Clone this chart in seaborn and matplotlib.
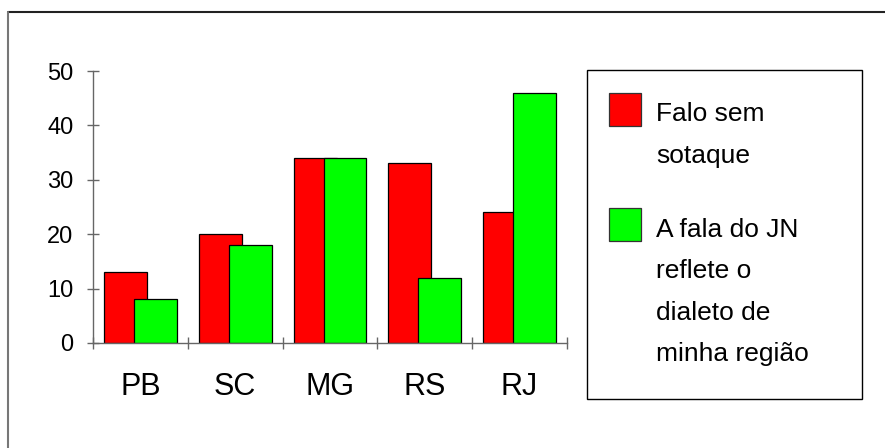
import matplotlib
matplotlib.use("Agg")
import matplotlib.pyplot as plt
from matplotlib.patches import Rectangle
from matplotlib.lines import Line2D
import seaborn as sns
import pandas as pd

# chart data
regions = ["PB", "SC", "MG", "RS", "RJ"]
falo_sem_sotaque = [13, 20, 34, 33, 24]
fala_jn_dialeto = [8, 18, 34, 12, 46]
series_labels = ["Falo sem\nsotaque", "A fala do JN\nreflete o\ndialeto de\nminha região"]
series_colors = ["#ff0000", "#00ff00"]
y_ticks = [0, 10, 20, 30, 40, 50]

df = pd.DataFrame({"regiao": regions, series_labels[0]: falo_sem_sotaque,
                   series_labels[1]: fala_jn_dialeto})
long_df = df.melt(id_vars="regiao", var_name="serie", value_name="valor")

sns.set_style("white")
plt.rcParams["font.family"] = ["Liberation Sans", "DejaVu Sans"]
plt.rcParams["text.color"] = "black"
plt.rcParams["xtick.labelcolor"] = "black"
plt.rcParams["ytick.labelcolor"] = "black"

fig = plt.figure(figsize=(8.85, 4.48), dpi=100)
ax = fig.add_axes([0.1051, 0.2344, 0.5356, 0.6071])

sns.barplot(data=long_df, x="regiao", y="valor", hue="serie", order=regions,
            hue_order=series_labels, palette=series_colors, saturation=1,
            width=0.632, edgecolor="black", linewidth=0.9, legend=False, ax=ax)

# overlapping bars: widen each bar around its own center
bar_w = 0.453
for p in ax.patches:
    c = p.get_x() + p.get_width() / 2
    p.set_width(bar_w)
    p.set_x(c - bar_w / 2)

ax.set_xlim(-0.5, 4.5)
ax.set_ylim(0, 50)
ax.set_yticks(y_ticks)
ax.set_xlabel("")
ax.set_ylabel("")
ax.set_xticks(range(len(regions)))
ax.set_xticklabels(regions)
ax.set_xticks([i - 0.5 for i in range(len(regions) + 1)], minor=True)

for s in ["top", "right"]:
    ax.spines[s].set_visible(False)
for s in ["left", "bottom"]:
    ax.spines[s].set_color("#666666")
    ax.spines[s].set_linewidth(1.0)

ax.tick_params(axis="y", which="major", direction="inout", length=8, width=1,
               color="#666666", labelsize=17, pad=10, left=True)
ax.tick_params(axis="x", which="major", length=0, labelsize=22, pad=21)
ax.tick_params(axis="x", which="minor", direction="inout", length=8.5, width=1,
               color="#666666", bottom=True)

# legend box on the right
fig.add_artist(Rectangle((0.6633, 0.1094), 0.3107, 0.7344, transform=fig.transFigure,
                         facecolor="white", edgecolor="black", linewidth=1.0))
handle_y = [0.7188, 0.462]
text_y = [0.772, 0.514]
for lab, col, hy, ty in zip(series_labels, series_colors, handle_y, text_y):
    fig.add_artist(Rectangle((0.688, hy), 0.0362, 0.0737, transform=fig.transFigure,
                             facecolor=col, edgecolor="#333333", linewidth=0.9))
    fig.text(0.7412, ty, lab, fontsize=19, va="top", ha="left", linespacing=1.92)

# frame lines of the original picture (top and left only)
fig.add_artist(Line2D([0.0085, 1.0], [0.9743, 0.9743], transform=fig.transFigure,
                      color="#222222", linewidth=1.5))
fig.add_artist(Line2D([0.0085, 0.0085], [0.0, 0.9743], transform=fig.transFigure,
                      color="#777777", linewidth=1.5))

fig.savefig("out.png", dpi=100)
